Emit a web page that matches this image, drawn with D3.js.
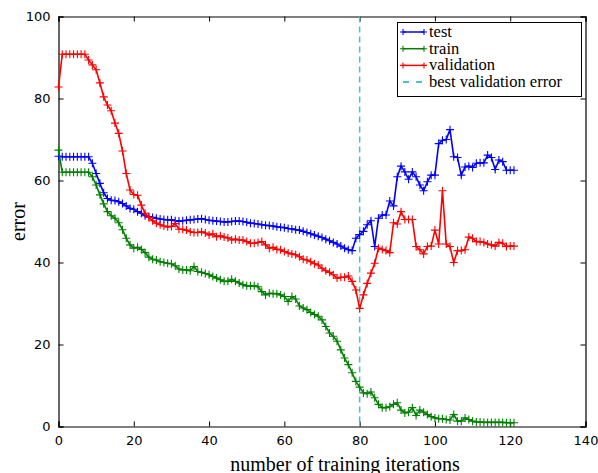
<!DOCTYPE html>
<html>
<head>
<meta charset="utf-8">
<script src="https://cdn.jsdelivr.net/npm/d3@7"></script>
<style>
  body { margin: 0; background: #fff; }
  .axis text { font-family: "DejaVu Sans", sans-serif; font-size: 13px; fill: #000; }
  .lbl { font-family: "Liberation Serif", "Times New Roman", serif; font-size: 20px; fill: #000; }
  .leg { font-family: "Liberation Serif", "Times New Roman", serif; font-size: 16.5px; fill: #000; }
</style>
</head>
<body>
<div id="chart"></div>
<script>
// error per training iteration (0..121)
var test = [65.9, 65.8, 65.8, 65.8, 65.8, 65.8, 65.8, 65.8, 65.8, 64.2,
  61.7, 59.3, 57.0, 55.6, 55.2, 55.1, 54.8, 54.4, 53.8, 53.2,
  53.0, 52.4, 52.0, 51.4, 51.2, 51.0, 50.8, 50.6, 50.5, 50.4,
  50.4, 50.2, 50.1, 50.2, 50.3, 50.4, 50.5, 50.6, 50.7, 50.5,
  50.3, 50.2, 50.1, 50.0, 49.9, 49.9, 50.0, 50.1, 50.1, 50.0,
  49.8, 49.6, 49.5, 49.4, 49.2, 49.1, 49.0, 48.9, 48.7, 48.6,
  48.5, 48.3, 48.2, 48.0, 47.9, 47.6, 47.3, 47.0, 46.7, 46.4,
  46.1, 45.7, 45.3, 44.9, 44.5, 44.0, 43.5, 43.1, 42.9, 45.9,
  46.8, 47.6, 49.2, 50.2, 43.9, 50.8, 51.6, 51.6, 55.0, 53.8,
  60.9, 63.5, 62.1, 60.3, 62.1, 60.9, 58.9, 57.5, 59.7, 61.3,
  61.3, 69.0, 69.8, 70.0, 72.4, 65.8, 65.6, 61.3, 63.3, 63.5,
  63.2, 64.2, 64.3, 64.3, 66.2, 65.6, 62.7, 65.0, 64.6, 62.5,
  62.5, 62.5];

var train = [67.4, 62.0, 62.0, 62.0, 62.0, 62.0, 62.0, 62.0, 62.0, 60.9,
  58.9, 56.5, 54.3, 52.4, 51.4, 50.8, 49.7, 48.0, 45.9, 44.3,
  43.5, 43.7, 43.2, 42.4, 41.3, 40.8, 40.6, 40.2, 40.0, 39.8,
  39.7, 39.2, 38.4, 38.2, 38.2, 38.0, 39.0, 37.8, 37.6, 37.3,
  37.0, 36.6, 36.2, 35.8, 35.4, 35.4, 35.9, 35.4, 35.0, 34.6,
  34.3, 34.3, 34.3, 34.1, 32.9, 32.1, 32.5, 32.4, 32.4, 32.1,
  31.7, 30.5, 31.7, 31.1, 29.4, 28.9, 28.5, 27.8, 27.3, 26.9,
  26.0, 24.4, 22.8, 22.0, 20.8, 18.7, 16.7, 15.1, 13.1, 11.0,
  9.6, 8.2, 8.0, 8.4, 7.0, 5.4, 4.6, 4.6, 4.8, 5.4,
  5.8, 4.0, 3.3, 3.5, 4.6, 2.7, 4.0, 3.5, 2.9, 2.4,
  2.1, 1.9, 1.9, 1.7, 1.6, 2.9, 1.3, 1.3, 2.1, 1.7,
  1.3, 1.1, 1.1, 1.0, 1.0, 1.0, 1.0, 1.0, 1.0, 0.9,
  0.9, 0.9];

var validation = [82.8, 90.8, 90.8, 90.8, 90.8, 90.8, 90.8, 90.8, 89.4, 88.2,
  87.0, 83.8, 80.4, 78.4, 77.0, 74.0, 71.5, 67.2, 61.7, 57.7,
  56.6, 56.4, 54.0, 52.0, 51.0, 50.2, 49.6, 49.2, 48.9, 48.7,
  48.8, 49.5, 48.1, 48.1, 47.9, 47.5, 47.3, 47.3, 47.5, 47.2,
  46.7, 47.0, 46.3, 46.5, 46.2, 46.0, 45.5, 45.7, 45.5, 45.5,
  45.1, 44.7, 44.7, 44.9, 45.1, 44.3, 43.5, 43.7, 43.2, 43.1,
  42.7, 42.3, 42.1, 41.9, 41.4, 40.8, 40.6, 40.2, 39.7, 39.4,
  38.6, 38.0, 37.6, 37.0, 36.2, 36.4, 36.4, 36.7, 35.4, 33.3,
  28.8, 32.1, 34.9, 37.4, 39.8, 43.5, 43.2, 42.9, 42.4, 49.7,
  49.4, 52.4, 50.5, 50.5, 50.5, 43.9, 43.1, 42.1, 43.9, 44.0,
  47.9, 44.5, 57.5, 44.5, 43.9, 40.0, 42.9, 42.9, 43.1, 46.2,
  45.9, 45.1, 45.1, 44.9, 44.5, 44.3, 44.0, 44.9, 44.7, 43.9,
  44.0, 44.0];

var bestIter = 80;
var xTicks = [0, 20, 40, 60, 80, 100, 120, 140];
var yTicks = [0, 20, 40, 60, 80, 100];

var series = [
  { name: "test", values: test, color: "#0000ff" },
  { name: "train", values: train, color: "#008000" },
  { name: "validation", values: validation, color: "#ff0000" }
];

var W = 598, H = 473;
var margin = { left: 58.5, right: 12.5, top: 16.5, bottom: 46.5 };

var svg = d3.select("#chart").append("svg")
  .attr("width", W).attr("height", H);

var x = d3.scaleLinear().domain([0, 140]).range([margin.left, W - margin.right]);
var y = d3.scaleLinear().domain([0, 100]).range([H - margin.bottom, margin.top]);

// axes, ticks pointing inward on all four sides
svg.append("g").attr("class", "axis")
  .attr("transform", "translate(0," + y(0) + ")")
  .call(d3.axisBottom(x).tickValues(xTicks).tickSize(-5).tickPadding(9));
svg.append("g").attr("class", "axis")
  .attr("transform", "translate(0," + y(100) + ")")
  .call(d3.axisTop(x).tickValues(xTicks).tickSize(-5).tickFormat(""));
svg.append("g").attr("class", "axis")
  .attr("transform", "translate(" + x(0) + ",0)")
  .call(d3.axisLeft(y).tickValues(yTicks).tickSize(-5).tickPadding(8));
svg.append("g").attr("class", "axis")
  .attr("transform", "translate(" + x(140) + ",0)")
  .call(d3.axisRight(y).tickValues(yTicks).tickSize(-5).tickFormat(""));

svg.selectAll(".axis path").attr("stroke", "#000").attr("stroke-width", 1.2);
svg.selectAll(".axis line").attr("stroke", "#000");

var line = d3.line()
  .x(function(d, i) { return x(i); })
  .y(function(d) { return y(d); });

function plus(g, cx, cy, s, color) {
  g.append("path")
    .attr("d", "M" + (cx - s) + "," + cy + "H" + (cx + s) + "M" + cx + "," + (cy - s) + "V" + (cy + s))
    .attr("stroke", color).attr("stroke-width", 1.1).attr("fill", "none");
}

// best validation error marker line
svg.append("line")
  .attr("x1", x(bestIter)).attr("x2", x(bestIter))
  .attr("y1", y(100)).attr("y2", y(0))
  .attr("stroke", "#40c4c4").attr("stroke-width", 1.5)
  .attr("stroke-dasharray", "6,4");

series.forEach(function(s) {
  var g = svg.append("g");
  g.append("path")
    .datum(s.values)
    .attr("d", line)
    .attr("fill", "none")
    .attr("stroke", s.color)
    .attr("stroke-width", 1.6);
  s.values.forEach(function(v, i) {
    plus(g, x(i), y(v), 4, s.color);
  });
});

// axis labels
svg.append("text").attr("class", "lbl")
  .attr("x", 345).attr("y", 471)
  .attr("text-anchor", "middle")
  .text("number of training iterations");
svg.append("text").attr("class", "lbl")
  .attr("transform", "translate(25," + y(50) + ") rotate(-90)")
  .attr("text-anchor", "middle")
  .text("error");

// legend
var leg = svg.append("g");
leg.append("rect")
  .attr("x", 397.5).attr("y", 22.5).attr("width", 184).attr("height", 74)
  .attr("fill", "#fff").attr("stroke", "#000").attr("stroke-width", 1);

var legItems = series.concat([{ name: "best validation error", color: "#40c4c4", dashed: true }]);
legItems.forEach(function(d, i) {
  var cy = 32 + i * 16.7;
  var l = leg.append("line")
    .attr("x1", 403).attr("x2", 424).attr("y1", cy).attr("y2", cy)
    .attr("stroke", d.color).attr("stroke-width", 1.5);
  if (d.dashed) {
    l.attr("stroke-dasharray", "6,7").attr("stroke-width", 2);
  } else {
    plus(leg, 403, cy, 3, d.color);
    plus(leg, 424, cy, 3, d.color);
  }
  leg.append("text").attr("class", "leg")
    .attr("x", 429).attr("y", cy + 5)
    .text(d.name);
});
</script>
</body>
</html>
